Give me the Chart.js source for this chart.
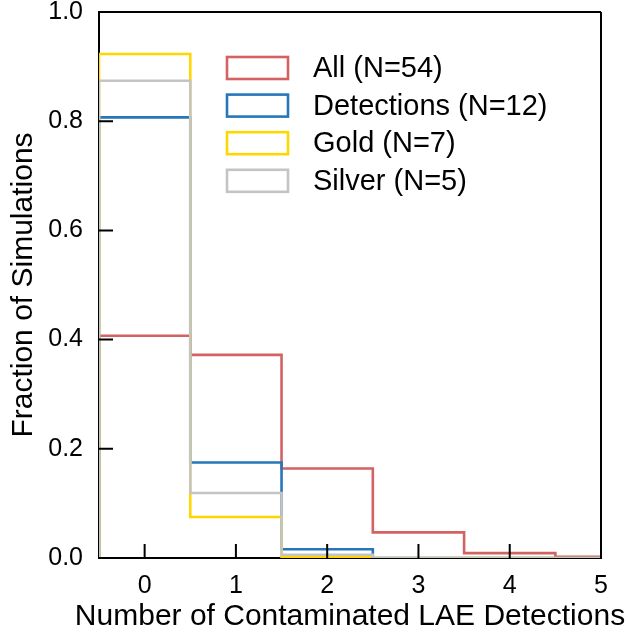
<!DOCTYPE html>
<html>
<head>
  <meta charset="UTF-8">
  <script src="https://cdn.jsdelivr.net/npm/chart.js"></script>
  <style>
    body { margin: 0; background: #fff; }
    #wrap { width: 628px; height: 632px; }
  </style>
</head>
<body>
  <div id="wrap"><canvas id="histChart" width="628" height="632"></canvas></div>
  <script>
    // bin edges of the histogram (x = number of contaminated detections)
    const binEdges = [-0.5, 0.5, 1.5, 2.5, 3.5, 4.5, 5.5];
    const seriesNames = ['All (N=54)', 'Detections (N=12)', 'Gold (N=7)', 'Silver (N=5)'];
    const allVals = [0.407, 0.372, 0.164, 0.047, 0.009, 0.002];
    const detVals = [0.807, 0.175, 0.016, 0, 0, 0];
    const goldVals = [0.923, 0.075, 0.002, 0, 0, 0];
    const silverVals = [0.874, 0.119, 0.006, 0, 0, 0];
    const xTicks = [0, 1, 2, 3, 4, 5];
    const yTicks = [0, 0.2, 0.4, 0.6, 0.8, 1.0];
    const xTitle = 'Number of Contaminated LAE Detections';
    const colors = ['#d46262', '#2677b9', '#ffd700', '#c4c4c4'];

    // turn bin values into the outline of a step histogram
    function stepPoints(vals) {
      const pts = [{x: binEdges[0], y: 0}];
      vals.forEach((v, i) => pts.push({x: binEdges[i], y: v}));
      pts.push({x: binEdges[vals.length], y: vals[vals.length - 1]});
      pts.push({x: binEdges[vals.length], y: 0});
      return pts;
    }

    const allSeries = [allVals, detVals, goldVals, silverVals];
    const datasets = allSeries.map((vals, i) => ({
      label: seriesNames[i],
      data: stepPoints(vals),
      borderColor: colors[i],
      backgroundColor: '#fff',
      borderWidth: 2.6,
      pointRadius: 0,
      stepped: 'before',
      fill: false,
      order: 3 - i
    }));

    const font = "'Liberation Sans', Arial, Helvetica, sans-serif";

    const framePlugin = {
      id: 'frame',
      afterDraw(chart) {
        const ctx = chart.ctx;
        const a = chart.chartArea;
        const xs = chart.scales.x, ys = chart.scales.y;
        ctx.save();
        ctx.strokeStyle = '#000';
        ctx.lineWidth = 2;
        ctx.beginPath();
        ctx.moveTo(a.left, a.top); ctx.lineTo(a.right, a.top);
        ctx.moveTo(a.right, a.top); ctx.lineTo(a.right, a.bottom);
        ctx.stroke();
        // inward ticks
        ctx.beginPath();
        xTicks.forEach(v => {
          const px = xs.getPixelForValue(v);
          ctx.moveTo(px, a.bottom); ctx.lineTo(px, a.bottom - 14);
        });
        yTicks.forEach(v => {
          const py = ys.getPixelForValue(v);
          ctx.moveTo(a.left, py); ctx.lineTo(a.left + 14, py);
        });
        ctx.stroke();
        // x axis title (drawn here so it can be wider than the axis)
        ctx.fillStyle = '#000';
        ctx.font = '30px ' + font;
        ctx.textAlign = 'center';
        ctx.textBaseline = 'middle';
        ctx.fillText(xTitle, (a.left + a.right) / 2, chart.height - 15);
        // legend inside the plot
        ctx.font = '29px ' + font;
        ctx.textAlign = 'left';
        chart.data.datasets.forEach((ds, i) => {
          const y = a.top + 56 + i * 37.6;
          ctx.lineWidth = 2.6;
          ctx.strokeStyle = ds.borderColor;
          ctx.strokeRect(a.left + 128, y - 11, 61, 22);
          ctx.fillText(ds.label, a.left + 214, y + 1);
        });
        ctx.restore();
      }
    };

    new Chart(document.getElementById('histChart'), {
      type: 'line',
      data: { datasets: datasets },
      options: {
        responsive: false,
        animation: false,
        layout: { padding: { left: 0, right: 27, top: 12, bottom: 0 } },
        plugins: { legend: { display: false }, tooltip: { enabled: false } },
        scales: {
          x: {
            type: 'linear',
            min: -0.5,
            max: 5,
            afterBuildTicks: s => { s.ticks = xTicks.map(v => ({value: v})); },
            afterFit: s => { s.height = 74; s.paddingLeft = 0; s.paddingRight = 0; },
            grid: { display: false, drawTicks: false },
            border: { display: true, color: '#000', width: 2 },
            ticks: { color: '#000', padding: 13, font: { family: font, size: 25 } },
            title: { display: false }
          },
          y: {
            min: 0,
            max: 1,
            afterBuildTicks: s => { s.ticks = yTicks.map(v => ({value: v})); },
            afterFit: s => { s.width = 99; s.paddingTop = 0; s.paddingBottom = 0; },
            grid: { display: false, drawTicks: false },
            border: { display: true, color: '#000', width: 2 },
            ticks: {
              color: '#000', padding: 16,
              font: { family: font, size: 25 },
              callback: v => v.toFixed(1)
            },
            title: {
              display: true,
              text: 'Fraction of Simulations',
              color: '#000',
              padding: { top: 9, bottom: 0 },
              font: { family: font, size: 30, lineHeight: 1 }
            }
          }
        }
      },
      plugins: [framePlugin]
    });
  </script>
</body>
</html>
